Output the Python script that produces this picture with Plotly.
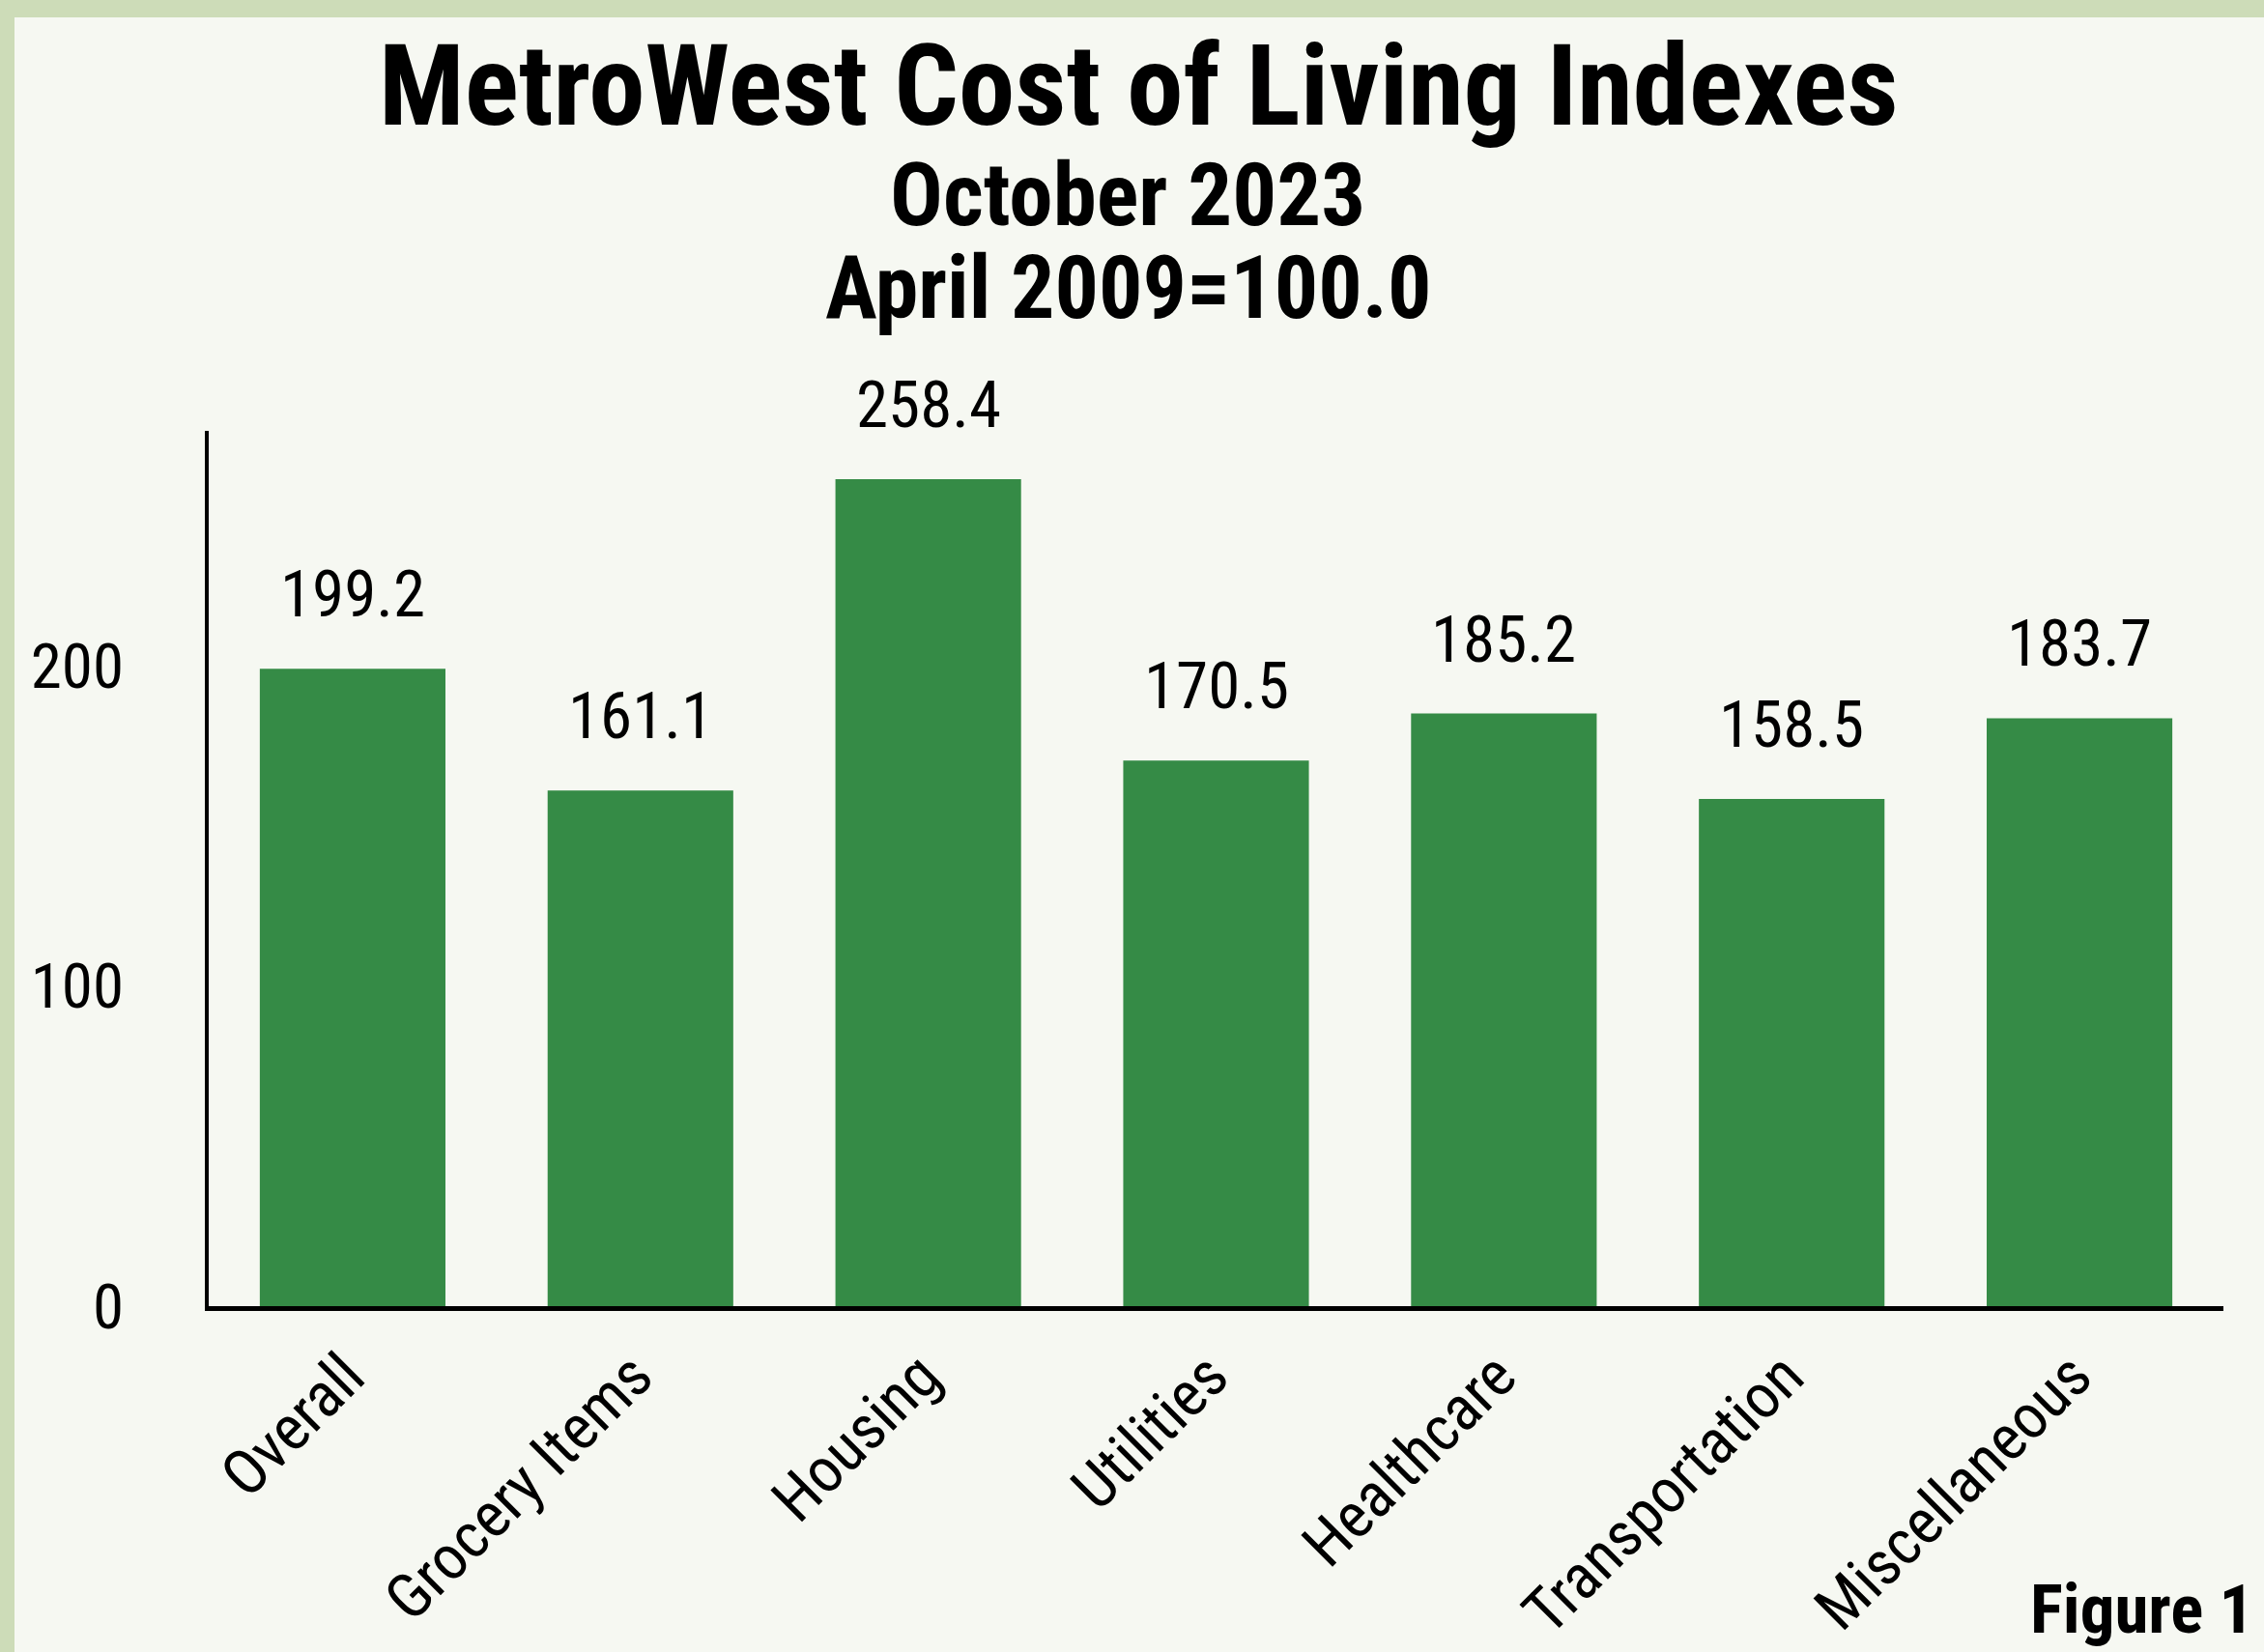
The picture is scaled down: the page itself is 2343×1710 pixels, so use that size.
import plotly.graph_objects as go

categories = ["Overall", "Grocery Items", "Housing", "Utilities", "Healthcare", "Transportation", "Miscellaneous"]
values = [199.2, 161.1, 258.4, 170.5, 185.2, 158.5, 183.7]
y_ticks = [0, 100, 200]
title_lines = ["MetroWest Cost of Living Indexes", "October 2023", "April 2009=100.0"]
figure_label = "Figure 1"

W, H = 2343, 1710
L, R, T, B = 216, 42, 446, 358
PH = H - T - B
PW = W - L - R

FONT = "Roboto Condensed, Liberation Sans Narrow, DejaVu Sans Condensed, sans-serif"
BAR = "#358b46"
BG = "#f6f8f2"
BORDER = "#cddcb8"


def py(p):
    return (H - B - p) / PH


def px(p):
    return (p - L) / PW


fig = go.Figure()
fig.add_trace(go.Bar(x=categories, y=values, marker=dict(color=BAR, line=dict(width=0)),
                     width=0.645, hoverinfo="skip"))

anns = []
for c, v in zip(categories, values):
    anns.append(dict(x=c, y=v, text=f"{v:.1f}", showarrow=False, yanchor="bottom",
                     yshift=36, font=dict(family=FONT, size=67, color="black")))

title_specs = [(title_lines[0], 117, 89, 1178, None),
               (title_lines[1], 91, 202, 1167, 76),
               (title_lines[2], 90, 298, 1167, None)]
for txt, size, cy, cx, h in title_specs:
    a = dict(xref="paper", yref="paper", x=px(cx), y=py(cy), text=f"<b>{txt}</b>",
             showarrow=False, xanchor="center", yanchor="middle",
             font=dict(family=FONT, size=size, color="black"))
    if h:
        a["height"] = h
    anns.append(a)

anns.append(dict(xref="paper", yref="paper", x=px(2334), y=py(1665), text=f"<b>{figure_label}</b>",
                 showarrow=False, xanchor="right", yanchor="middle",
                 font=dict(family=FONT, size=71, color="black")))

shapes = [
    dict(type="rect", xref="paper", yref="paper", x0=px(-5), x1=px(15), y0=py(H + 5), y1=py(-5),
         fillcolor=BORDER, line=dict(width=0), layer="below"),
    dict(type="rect", xref="paper", yref="paper", x0=px(-5), x1=px(W + 5), y0=py(18), y1=py(-5),
         fillcolor=BORDER, line=dict(width=0), layer="below"),
]

fig.update_layout(
    width=W, height=H, autosize=False,
    margin=dict(l=L, r=R, t=T, b=B, pad=0),
    paper_bgcolor=BG, plot_bgcolor=BG,
    showlegend=False,
    annotations=anns,
    shapes=shapes,
)
fig.update_xaxes(range=[-0.5, 6.5], showline=True, linecolor="black", linewidth=5,
                 showgrid=False, zeroline=False, tickangle=-45, ticks="", automargin=False,
                 ticklabelstandoff=3, ticklabelshift=-7,
                 tickfont=dict(family=FONT, size=65, color="black"), fixedrange=True)
fig.update_yaxes(range=[0, 273.5], showline=True, linecolor="black", linewidth=4,
                 showgrid=False, zeroline=False, tickvals=y_ticks, ticks="", automargin=False,
                 ticklabelstandoff=71,
                 tickfont=dict(family=FONT, size=65, color="black"), fixedrange=True)

fig.write_html("out.html", config={"displayModeBar": False},
               post_script="document.body.style.margin='0';document.body.style.background='%s';" % BG)
